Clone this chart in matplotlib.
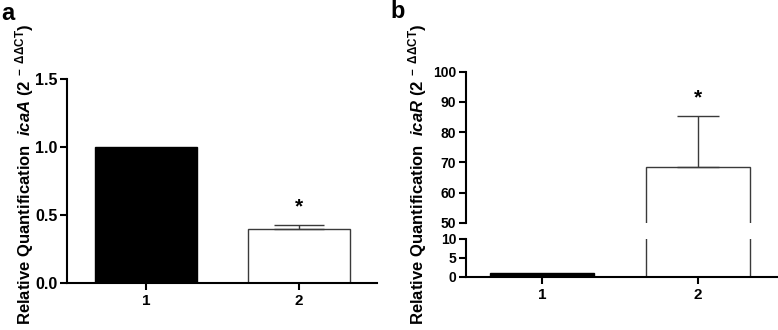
import matplotlib
matplotlib.use("Agg")
import matplotlib.pyplot as plt

plt.rcParams['font.family'] = ['Liberation Sans', 'DejaVu Sans']
plt.rcParams['font.weight'] = 'bold'
plt.rcParams['mathtext.fontset'] = 'custom'
plt.rcParams['mathtext.rm'] = 'Liberation Sans:bold'
plt.rcParams['mathtext.it'] = 'Liberation Sans:bold:italic'
plt.rcParams['mathtext.bf'] = 'Liberation Sans:bold'
plt.rcParams['mathtext.default'] = 'rm'

# ---- data ----
categories = ["1", "2"]
icaA_values = [1.0, 0.397]
icaA_err = [0.0, 0.033]
icaR_values = [1.0, 68.4]
icaR_err = [0.0, 16.8]
bar_colors = ["black", "white"]
sig_a = [None, "*"]
sig_b = [None, "*"]
sig_a_y = 0.56
sig_b_y = 91.5

W, H = 778, 330
fig = plt.figure(figsize=(W / 100, H / 100), dpi=100)

def px_axes(l, r, t, b):
    return fig.add_axes([l / W, 1 - b / H, (r - l) / W, (b - t) / H])

x = [1, 2]
edge = "#3a3a3a"

def style(ax, ylab_size):
    for s in ["top", "right"]:
        ax.spines[s].set_visible(False)
    for s in ["left", "bottom"]:
        ax.spines[s].set_linewidth(1.5)
    ax.tick_params(width=1.5, length=5, direction="out", pad=2)
    ax.tick_params(axis="y", labelsize=ylab_size)
    ax.tick_params(axis="x", labelsize=11, pad=3)
    for lab in ax.get_xticklabels() + ax.get_yticklabels():
        lab.set_fontweight("bold")

# ---- panel a ----
axa = px_axes(67, 377, 79, 283)
axa.bar(x, icaA_values, width=0.667, color=bar_colors, edgecolor=["black", edge], linewidth=1.0)
axa.errorbar([x[1]], [icaA_values[1]], yerr=[[0], [icaA_err[1]]], fmt="none",
             ecolor=edge, elinewidth=1.0, capsize=18, capthick=1.0)
axa.set_xlim(0.484, 2.51)
axa.set_ylim(0, 1.5)
axa.set_yticks([0.0, 0.5, 1.0, 1.5])
axa.set_yticklabels(["0.0", "0.5", "1.0", "1.5"])
axa.set_xticks(x)
axa.set_xticklabels(categories)
style(axa, 11.5)
for xi, s in zip(x, sig_a):
    if s:
        axa.text(xi, sig_a_y, s, ha="center", va="center", fontsize=15, fontweight="bold")

fig.text(25 / W, 1 - 174 / H,
         r"Relative Quantification  $\mathit{icaA}$ (2$^{\ -\ \Delta\Delta CT}$)",
         rotation=90, ha="center", va="center", fontsize=12, fontweight="bold")
fig.text(1 / W, 1 - 13 / H, "a", ha="left", va="center", fontsize=17, fontweight="bold")

# ---- panel b (broken axis) ----
axu = px_axes(466, 777, 71.7, 223)
axl = px_axes(466, 777, 239, 276.7)
for ax in (axu, axl):
    ax.bar(x, icaR_values, width=0.667, color=bar_colors, edgecolor=["black", edge], linewidth=1.0)
    ax.set_xlim(0.513, 2.506)
axu.errorbar([x[1]], [icaR_values[1]], yerr=[[0], [icaR_err[1]]], fmt="none",
             ecolor=edge, elinewidth=1.0, capsize=15, capthick=1.0)
axu.set_ylim(50, 100)
axu.set_yticks([50, 60, 70, 80, 90, 100])
axl.set_ylim(0, 10)
axl.set_yticks([0, 5, 10])
axl.set_xticks(x)
axl.set_xticklabels(categories)
style(axu, 10)
style(axl, 10)
axu.spines["bottom"].set_visible(False)
axu.tick_params(axis="x", bottom=False, labelbottom=False)
for xi, s in zip(x, sig_b):
    if s:
        axu.text(xi, sig_b_y, s, ha="center", va="center", fontsize=15, fontweight="bold")

fig.text(418 / W, 1 - 174 / H,
         r"Relative Quantification  $\mathit{icaR}$ (2$^{\ -\ \Delta\Delta CT}$)",
         rotation=90, ha="center", va="center", fontsize=12, fontweight="bold")
fig.text(390 / W, 1 - 12 / H, "b", ha="left", va="center", fontsize=17, fontweight="bold")

fig.savefig("out.png", dpi=100)
